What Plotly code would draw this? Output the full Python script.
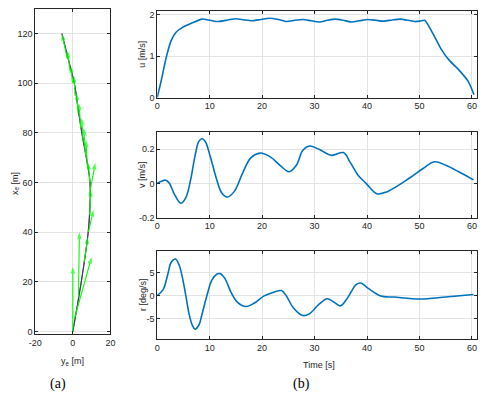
import plotly.graph_objects as go

# ---------------- data ----------------
# (a) trajectory: y_e (horizontal) vs x_e (vertical)
traj_ye = [0, 2.3, 4.5, 6.5, 8.2, 9.1, 9.3, 8.9, 7.2, 4.8, 2.8, 0.8, -1.5, -3.5, -5.8]
traj_xe = [0, 10, 20, 30, 40, 50, 57, 62, 70, 80, 90, 100, 107, 113, 120]

# heading arrows: base (ye, xe) and tip (ye, xe)
arr_base_ye = [0.0, 0.8, 3.0, 6.0, 8.3, 9.0, 8.8, 9.0, 7.8, 6.8, 5.6, 4.2, 2.8, 1.2, -0.2, -1.5, -3.0]
arr_base_xe = [0, 5, 14, 28, 40, 47, 55, 60, 66, 71, 76, 82, 88, 95, 100, 105, 110]
arr_tip_ye = [0.0, 10.0, 3.5, 8.0, 11.0, 9.6, 12.0, 8.3, 7.0, 5.8, 4.6, 3.3, 2.0, 0.6, -1.0, -2.8, -5.8]
arr_tip_xe = [26, 30, 40, 38, 49, 57, 68, 68, 77, 82, 86, 92, 96, 103, 107, 113, 120]

# (b) surge speed u [m/s]
t_u = [0, 0.8, 1.73, 2.66, 3.59, 4.83, 6.38, 8.55, 10.1, 11.65, 13.5, 15.0, 16.6, 18.1,
       19.7, 21.4, 23.1, 24.7, 26.2, 27.8, 29.3, 30.9, 32.4, 33.95, 35.5, 37.0, 38.6,
       40.1, 41.7, 43.2, 44.8, 46.3, 47.9, 49.1, 50.1, 51.0, 52.6, 54.1, 55.7, 57.5,
       59.3, 60.4]
u = [0, 0.43, 0.98, 1.38, 1.58, 1.70, 1.79, 1.90, 1.87, 1.84, 1.88, 1.91, 1.88, 1.86,
     1.89, 1.92, 1.89, 1.84, 1.87, 1.89, 1.86, 1.83, 1.87, 1.90, 1.87, 1.83, 1.86,
     1.89, 1.87, 1.85, 1.88, 1.90, 1.87, 1.84, 1.85, 1.87, 1.54, 1.18, 0.90, 0.67,
     0.39, 0.07]

# sway speed v [m/s]
t_v = [0, 0.8, 1.6, 2.35, 3.28, 4.52, 5.45, 6.38, 7.19, 7.93, 8.55, 9.17, 10.1, 11.34,
       12.27, 13.38, 14.74, 16.3, 17.84, 19.6, 21.56, 23.42, 25.15, 26.52, 27.76, 29.0,
       30.86, 33.21, 35.5, 36.74, 38.29, 39.84, 41.88, 43.87, 48.2, 50.68, 52.85, 55.02,
       57.5, 60.3]
v = [0, 0.013, 0.019, 0.0, -0.064, -0.116, -0.083, 0.023, 0.158, 0.245, 0.261, 0.245,
     0.158, 0.023, -0.054, -0.079, -0.045, 0.062, 0.149, 0.177, 0.155, 0.106, 0.068,
     0.106, 0.193, 0.218, 0.199, 0.164, 0.180, 0.126, 0.048, 0.0, -0.060, -0.048, 0.033,
     0.087, 0.126, 0.106, 0.068, 0.021]

# yaw rate r [deg/s]
t_r = [0, 1.12, 2.04, 2.66, 3.47, 4.21, 4.83, 5.45, 6.07, 6.69, 7.19, 7.93, 8.55, 9.48,
       10.41, 11.34, 11.96, 12.89, 14.13, 15.37, 16.9, 18.46, 20.3, 22.2, 23.7, 24.66,
       25.9, 27.75, 29.0, 30.86, 32.4, 33.64, 34.9, 36.1, 37.97, 38.8, 40.15, 42.63,
       45.1, 50.07, 55.02, 60.3]
r = [0, 1.26, 4.7, 7.2, 7.9, 6.5, 3.7, 0.0, -4.0, -6.46, -7.3, -6.46, -4.0, 0.0, 3.3,
     4.6, 4.75, 3.7, 0.55, -1.55, -2.4, -1.7, -0.15, 0.7, 1.05, -0.15, -2.6, -4.35,
     -4.0, -1.9, -0.7, -1.4, -2.25, -0.85, 2.4, 2.7, 1.6, -0.14, -0.35, -0.78, -0.35, 0.2]

# ---------------- style ----------------
BLUE = "#0072BD"
GREEN = "#00ff00"
AX = "#262626"
GRID = "#e3e3e3"
FONT = "Liberation Sans Narrow, Liberation Sans, Arial, sans-serif"

fig = go.Figure()

# trajectory (red reference + blue actual)
fig.add_trace(go.Scatter(x=traj_ye, y=traj_xe, mode="lines", line=dict(color="#c0392b", width=1.2, shape="spline"),
                         xaxis="x", yaxis="y", showlegend=False))
fig.add_trace(go.Scatter(x=traj_ye, y=traj_xe, mode="lines", line=dict(color="#1f3f8f", width=1.0, shape="spline"),
                         xaxis="x", yaxis="y", showlegend=False))

# heading arrows as line segments with arrow-head markers at tips
qx, qy, qsym, qsize = [], [], [], []
for bx, by, tx, ty in zip(arr_base_ye, arr_base_xe, arr_tip_ye, arr_tip_xe):
    qx += [bx, tx, None]
    qy += [by, ty, None]
    qsym += ["circle", "arrow", "circle"]
    qsize += [0, 7, 0]
fig.add_trace(go.Scatter(x=qx, y=qy, mode="lines+markers", connectgaps=False,
                         line=dict(color=GREEN, width=1.1),
                         marker=dict(symbol=qsym, size=qsize, color=GREEN, angleref="previous",
                                     line=dict(width=0)),
                         xaxis="x", yaxis="y", showlegend=False))

fig.add_trace(go.Scatter(x=t_u, y=u, mode="lines", line=dict(color=BLUE, width=1.6, shape="spline", smoothing=0.6),
                         xaxis="x2", yaxis="y2", showlegend=False))
fig.add_trace(go.Scatter(x=t_v, y=v, mode="lines", line=dict(color=BLUE, width=1.6, shape="spline", smoothing=1.0),
                         xaxis="x3", yaxis="y3", showlegend=False))
fig.add_trace(go.Scatter(x=t_r, y=r, mode="lines", line=dict(color=BLUE, width=1.6, shape="spline", smoothing=1.0),
                         xaxis="x4", yaxis="y4", showlegend=False))


def ax_style(**kw):
    d = dict(showline=True, linecolor=AX, linewidth=1, mirror="ticks", ticks="inside", ticklen=3,
             tickcolor=AX, showgrid=True, gridcolor=GRID, gridwidth=1, zeroline=False,
             tickfont=dict(family=FONT, size=9, color=AX))
    d.update(kw)
    return d

xr = [0, 61]
xt = [0, 10, 20, 30, 40, 50, 60]
fig.update_layout(
    width=488, height=398, margin=dict(l=0, r=0, t=0, b=0),
    paper_bgcolor="white", plot_bgcolor="white",
    font=dict(family=FONT, size=9, color=AX),
    xaxis=ax_style(domain=[0.0594, 0.2172], range=[-20, 20], tickvals=[-20, 0, 20],
                   ticktext=["-20", "0", "20"], anchor="y"),
    yaxis=ax_style(domain=[0.1508, 0.9799], range=[-1, 130], tickvals=[0, 20, 40, 60, 80, 100, 120], anchor="x"),
    xaxis2=ax_style(domain=[0.3156, 0.9877], range=xr, tickvals=xt, anchor="y2"),
    yaxis2=ax_style(domain=[0.7538, 0.9749], range=[0, 2.1], tickvals=[0, 1, 2], anchor="x2"),
    xaxis3=ax_style(domain=[0.3156, 0.9877], range=xr, tickvals=xt, anchor="y3"),
    yaxis3=ax_style(domain=[0.4472, 0.6658], range=[-0.2, 0.3], tickvals=[-0.2, 0, 0.2],
                    ticktext=["-0.2", "0", "0.2"], anchor="x3"),
    xaxis4=ax_style(domain=[0.3156, 0.9877], range=xr, tickvals=xt, anchor="y4"),
    yaxis4=ax_style(domain=[0.1382, 0.3618], range=[-9.4, 9.6], tickvals=[-5, 0, 5],
                    ticktext=["-5", "0", "5"], anchor="x4"),
)

annotations = []
lab = dict(family=FONT, size=9, color=AX)
texts = [
    dict(x=8 / 488, y=1 - 185 / 398, text="x<sub>e</sub> [m]", textangle=-90),
    dict(x=67 / 488, y=1 - 366 / 398, text="y<sub>e</sub> [m]", textangle=0),
    dict(x=139 / 488, y=1 - 54 / 398, text="u [m/s]", textangle=-90),
    dict(x=139 / 488, y=1 - 176 / 398, text="v [m/s]", textangle=-90),
    dict(x=139 / 488, y=1 - 298 / 398, text="r [deg/s]", textangle=-90),
    dict(x=320 / 488, y=1 - 370 / 398, text="Time [s]", textangle=0),
]
for tdef in texts:
    annotations.append(dict(xref="paper", yref="paper", showarrow=False, font=lab,
                            xanchor="center", yanchor="middle", **tdef))
for x, txt in [(52, "(a)"), (302, "(b)")]:
    annotations.append(dict(xref="paper", yref="paper", x=x / 488, y=1 - 389 / 398, text=txt,
                            showarrow=False, xanchor="center", yanchor="middle",
                            font=dict(family="Liberation Serif, Times New Roman, serif", size=14, color="black")))

fig.update_layout(annotations=annotations)
fig.write_html("out.html")
